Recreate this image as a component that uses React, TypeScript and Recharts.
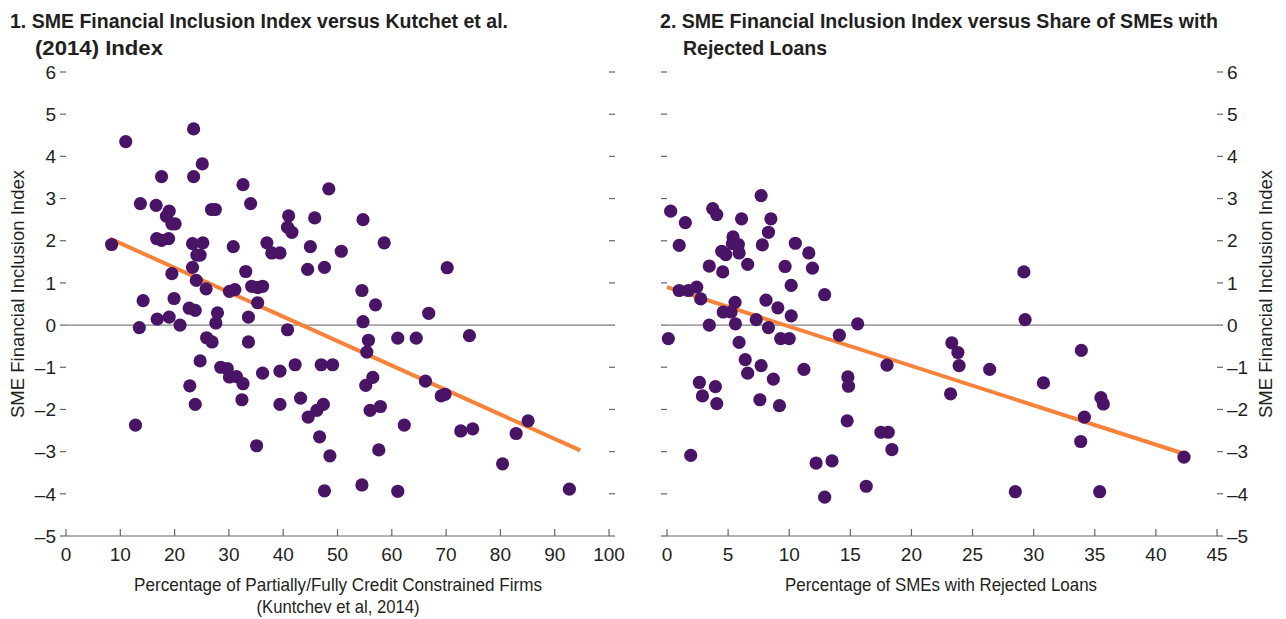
import { ReferenceLine, Scatter, ScatterChart, XAxis, YAxis } from 'recharts';

const FONT = '"Liberation Sans Narrow", "Arial Narrow", "Liberation Sans", Arial, sans-serif';
const INK = '#231f20';
const DOT = '#4a1466';
const FIT = '#f7833b';
const TICK_GRAY = '#666666';

// Panel 1: credit constrained firms (x) vs SME FII (y)
const leftX = [
  11.0, 23.5, 25.1, 17.6, 23.5, 32.6, 48.4, 13.7, 16.6, 34.0, 19.0, 26.8, 27.5, 18.5, 19.5, 20.1,
  41.0, 45.8, 40.8, 41.6, 16.7, 17.6, 18.9, 23.3, 25.2, 30.8, 37.0, 45.0, 50.7, 24.1, 24.7, 37.9,
  39.4, 8.4, 23.3, 19.5, 24.0, 25.8, 33.1, 44.5, 47.6, 34.2, 35.3, 36.2, 30.1, 31.1, 14.2, 19.9,
  22.7, 23.8, 27.9, 35.3, 54.7, 58.6, 70.2, 54.5, 57.0, 66.8, 33.6, 16.8, 19.0, 13.5, 21.0, 27.6,
  40.8, 25.9, 26.9, 33.6, 24.7, 28.5, 29.7, 30.1, 31.4, 32.6, 36.2, 39.4, 42.2, 47.0, 49.1, 22.8,
  23.8, 32.4, 39.4, 43.2, 44.6, 46.2, 47.4, 12.8, 35.1, 46.7, 48.6, 47.6, 54.7, 55.7, 55.4, 61.1,
  64.5, 74.3, 56.5, 55.2, 66.2, 69.1, 69.8, 56.0, 57.9, 62.3, 72.7, 74.9, 82.9, 85.1, 57.6, 80.4,
  54.5, 61.1, 92.7,
];
const leftY = [
  4.35, 4.65, 3.82, 3.52, 3.52, 3.33, 3.23, 2.88, 2.84, 2.88, 2.7, 2.74, 2.74, 2.58, 2.4, 2.4,
  2.59, 2.54, 2.32, 2.2, 2.05, 2.01, 2.05, 1.93, 1.95, 1.86, 1.95, 1.86, 1.75, 1.66, 1.66, 1.71,
  1.71, 1.91, 1.37, 1.22, 1.06, 0.86, 1.27, 1.32, 1.37, 0.92, 0.89, 0.92, 0.8, 0.84, 0.58, 0.63,
  0.4, 0.35, 0.29, 0.53, 2.5, 1.95, 1.36, 0.82, 0.48, 0.28, 0.19, 0.14, 0.19, -0.06, 0.0, 0.05,
  -0.11, -0.3, -0.4, -0.4, -0.85, -1.0, -1.03, -1.23, -1.22, -1.39, -1.14, -1.09, -0.94, -0.94, -0.94, -1.44,
  -1.88, -1.77, -1.88, -1.73, -2.18, -2.02, -1.88, -2.37, -2.86, -2.65, -3.1, -3.93, 0.08, -0.36, -0.64, -0.31,
  -0.31, -0.25, -1.24, -1.43, -1.33, -1.68, -1.64, -2.02, -1.93, -2.37, -2.51, -2.46, -2.57, -2.27, -2.96, -3.29,
  -3.79, -3.94, -3.89,
];
const leftFitX = [8.1, 94.7];
const leftFitY = [2.05, -2.97];
const leftXTicks = [0, 10, 20, 30, 40, 50, 60, 70, 80, 90, 100];

// Panel 2: SMEs with rejected loans (x) vs SME FII (y)
const rightX = [
  0.3, 1.5, 3.74, 4.07, 6.1, 7.7, 8.5, 8.3, 1.0, 5.4, 5.35, 5.84, 5.9, 4.48, 4.81, 7.8,
  10.5, 11.6, 3.46, 4.56, 6.6, 9.66, 11.9, 10.16, 12.9, 1.0, 1.75, 2.43, 2.76, 5.57, 8.1, 9.07,
  4.6, 5.24, 10.16, 3.46, 5.6, 7.3, 8.3, 0.11, 5.9, 9.3, 10.0, 14.1, 15.6, 6.4, 6.6, 7.7,
  8.7, 11.2, 14.8, 14.85, 18.0, 2.65, 2.9, 3.96, 4.07, 7.6, 9.2, 14.74, 17.5, 18.1, 18.4, 1.94,
  12.2, 13.5, 16.3, 12.9, 29.3, 29.2, 23.3, 23.8, 23.9, 26.4, 33.9, 30.8, 23.2, 35.5, 35.7, 34.15,
  33.85, 42.3, 28.5, 35.4,
];
const rightY = [
  2.7, 2.43, 2.76, 2.62, 2.52, 3.07, 2.52, 2.2, 1.89, 2.09, 1.93, 1.91, 1.71, 1.75, 1.67, 1.9,
  1.94, 1.71, 1.4, 1.26, 1.44, 1.39, 1.35, 0.94, 0.72, 0.82, 0.82, 0.9, 0.62, 0.54, 0.59, 0.41,
  0.31, 0.31, 0.22, 0.0, 0.03, 0.13, -0.06, -0.32, -0.41, -0.32, -0.32, -0.24, 0.03, -0.82, -1.14, -0.96,
  -1.28, -1.05, -1.23, -1.45, -0.95, -1.36, -1.68, -1.46, -1.86, -1.77, -1.91, -2.27, -2.54, -2.54, -2.95, -3.09,
  -3.27, -3.22, -3.82, -4.08, 0.13, 1.26, -0.42, -0.65, -0.96, -1.05, -0.6, -1.37, -1.63, -1.72, -1.87, -2.18,
  -2.76, -3.13, -3.95, -3.95,
];
const rightFitX = [0, 42.3];
const rightFitY = [0.9, -3.05];
const rightXTicks = [0, 5, 10, 15, 20, 25, 30, 35, 40, 45];

const yTicks = [-5, -4, -3, -2, -1, 0, 1, 2, 3, 4, 5, 6];

const toPoints = (xs: number[], ys: number[]) => xs.map((x, i) => ({ x, y: ys[i] }));
const fmt = (v: number) => (v < 0 ? `\u2013${Math.abs(v)}` : String(v));

const tickText = { fontSize: 19, fill: INK, fontFamily: FONT };

function XTick(props: any) {
  const { x, y, payload } = props;
  return (
    <g>
      <line x1={x} x2={x} y1={y} y2={y - 7} stroke={TICK_GRAY} strokeWidth={1.2} />
      <text x={x} y={y + 25} textAnchor="middle" {...tickText}>
        {payload.value}
      </text>
    </g>
  );
}

const NoLabel = () => <g />;

interface PanelProps {
  width: number;
  xMax: number;
  xTicks: number[];
  points: { x: number; y: number }[];
  fit: { x: number; y: number }[];
  labelSide: 'left' | 'right';
  margin: { top: number; right: number; bottom: number; left: number };
}

function Panel({ width, xMax, xTicks, points, fit, labelSide, margin }: PanelProps) {
  return (
    <ScatterChart width={width} height={619} margin={margin}>
      <XAxis
        type="number"
        dataKey="x"
        domain={[0, xMax]}
        ticks={xTicks}
        interval={0}
        height={30}
        tickSize={0}
        tickMargin={0}
        tick={<XTick />}
        axisLine={{ stroke: TICK_GRAY, strokeWidth: 1.2 }}
        tickLine={false}
      />
      <YAxis
        yAxisId="l"
        type="number"
        dataKey="y"
        orientation="left"
        domain={[-5, 6]}
        ticks={yTicks}
        interval={0}
        width={labelSide === 'left' ? 40 : 10}
        axisLine={false}
        tickLine={{ stroke: TICK_GRAY, strokeWidth: 1.2 }}
        tickMargin={4}
        tickFormatter={fmt}
        tick={labelSide === 'left' ? tickText : NoLabel}
      />
      <YAxis
        yAxisId="r"
        type="number"
        dataKey="y"
        orientation="right"
        domain={[-5, 6]}
        ticks={yTicks}
        interval={0}
        width={labelSide === 'right' ? 50 : 10}
        axisLine={false}
        tickLine={{ stroke: TICK_GRAY, strokeWidth: 1.2 }}
        tickMargin={4}
        tickFormatter={fmt}
        tick={labelSide === 'right' ? { ...tickText, textAnchor: 'start' } : NoLabel}
      />
      <ReferenceLine yAxisId="l" y={0} stroke="#808080" strokeWidth={1.3} />
      <Scatter
        yAxisId="r"
        data={fit}
        line={{ stroke: FIT, strokeWidth: 4 }}
        shape={() => <g />}
        isAnimationActive={false}
      />
      <Scatter
        yAxisId="l"
        data={points}
        fill={DOT}
        shape={(p: any) => <circle cx={p.cx} cy={p.cy} r={6.6} fill={DOT} />}
        isAnimationActive={false}
      />
    </ScatterChart>
  );
}

export default function App() {
  const title = { fontFamily: FONT, fontSize: 21, fontWeight: 700, fill: INK, lengthAdjust: 'spacingAndGlyphs' as const };
  const label = { fontFamily: FONT, fontSize: 18.5, fill: INK, lengthAdjust: 'spacingAndGlyphs' as const };
  return (
    <div style={{ position: 'absolute', left: 0, top: 0, width: 1286, height: 619, background: '#fff' }}>
      <div style={{ position: 'absolute', left: 0, top: 0 }}>
        <Panel
          width={640}
          xMax={100}
          xTicks={leftXTicks}
          points={toPoints(leftX, leftY)}
          fit={toPoints(leftFitX, leftFitY)}
          labelSide="left"
          margin={{ top: 72, right: 21, bottom: 53, left: 26 }}
        />
      </div>
      <div style={{ position: 'absolute', left: 640, top: 0 }}>
        <Panel
          width={646}
          xMax={45}
          xTicks={rightXTicks}
          points={toPoints(rightX, rightY)}
          fit={toPoints(rightFitX, rightFitY)}
          labelSide="right"
          margin={{ top: 72, right: 19, bottom: 53, left: 17 }}
        />
      </div>
      <svg
        width={1286}
        height={619}
        style={{ position: 'absolute', left: 0, top: 0, pointerEvents: 'none' }}
      >
        <text x={10} y={28} textLength={498} {...title}>
          1. SME Financial Inclusion Index versus Kutchet et al.
        </text>
        <text x={35} y={55} textLength={128} {...title}>(2014) Index</text>
        <text x={660} y={28} textLength={558} {...title}>
          2. SME Financial Inclusion Index versus Share of SMEs with
        </text>
        <text x={683} y={55} textLength={144} {...title}>Rejected Loans</text>
        <text x={338} y={591} textAnchor="middle" textLength={408} {...label}>
          Percentage of Partially/Fully Credit Constrained Firms
        </text>
        <text x={338} y={613} textAnchor="middle" textLength={163} {...label}>
          (Kuntchev et al, 2014)
        </text>
        <text x={941} y={591} textAnchor="middle" textLength={312} {...label}>
          Percentage of SMEs with Rejected Loans
        </text>
        <text x={24} y={294} textAnchor="middle" textLength={248} transform="rotate(-90 24 294)" {...label}>
          SME Financial Inclusion Index
        </text>
        <text x={1272} y={294} textAnchor="middle" textLength={248} transform="rotate(-90 1272 294)" {...label}>
          SME Financial Inclusion Index
        </text>
      </svg>
    </div>
  );
}
